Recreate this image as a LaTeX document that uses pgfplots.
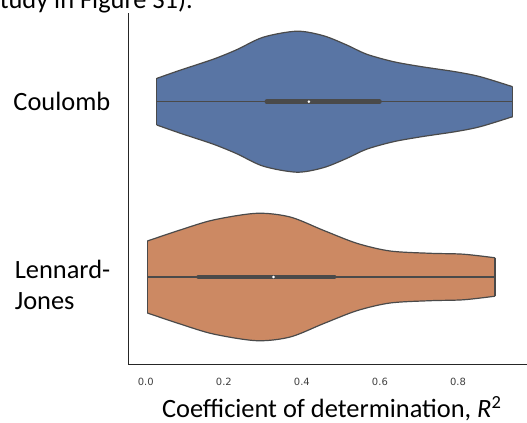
\documentclass[border=0pt]{standalone}
\usepackage{pgfplots}
\pgfplotsset{compat=1.18}
\usepgfplotslibrary{fillbetween}
\usepackage{fontspec}
\setmainfont{Carlito}
\newfontfamily\tickfont{DejaVu Sans}
\definecolor{vblue}{HTML}{5975A4}
\definecolor{vorange}{HTML}{CC8963}
\definecolor{vline}{HTML}{4A4A4A}
\begin{document}
\begin{tikzpicture}
\begin{axis}[
 set layers,
 scale only axis, width=398.5bp, height=351.5bp,
 xmin=-0.0444, xmax=0.977, ymin=-364.5, ymax=-13,
 axis x line*=bottom, axis y line*=left,
 axis line style={black!85, line width=0.8bp},
 xtick={0,0.2,0.4,0.6,0.8},
 xticklabels={0.0,0.2,0.4,0.6,0.8},
 xticklabel style={font=\tickfont\fontsize{10}{12}\selectfont, text=black!75, inner sep=0pt, anchor=north, yshift=-13bp},
 major tick length=0pt,
 ytick={-101,-285},
 yticklabels={Coulomb, Lennard-\\Jones},
 yticklabel style={font=\fontsize{26.5}{31}\selectfont, align=left, inner sep=0pt, anchor=east, xshift=-18bp},
 xlabel={Coefficient of determination, \textit{R}\textsuperscript{2}},
 xlabel style={font=\fontsize{26.5}{31}\selectfont, at={(axis description cs:0.51,0)}, anchor=base, yshift=-52.8bp},
 clip=false,
]
% Coulomb violin
\addplot[name path=cu, draw=vline, line width=1.2bp, smooth] coordinates {
(0.028,-78.4)(0.088,-70.2)(0.173,-59.2)(0.233,-49.7)(0.301,-37.2)(0.387,-31.2)(0.455,-35.7)(0.515,-45.0)(0.566,-54.2)(0.635,-61.7)(0.707,-66.7)(0.793,-71.7)(0.857,-76.7)(0.940,-86.7)};
\addplot[name path=cl, draw=vline, line width=1.2bp, smooth] coordinates {
(0.028,-125.0)(0.088,-133.2)(0.173,-144.2)(0.233,-153.7)(0.301,-166.2)(0.387,-172.2)(0.455,-167.7)(0.515,-158.4)(0.566,-149.2)(0.635,-141.7)(0.707,-136.7)(0.793,-131.7)(0.857,-126.7)(0.940,-116.7)};
\addplot[fill=vblue, draw=none] fill between[of=cu and cl];
\addplot[vline, line width=1.2bp] coordinates {(0.028,-78.4)(0.028,-125.0)};
\addplot[vline, line width=1.2bp] coordinates {(0.940,-86.7)(0.940,-116.7)};
\addplot[vline, line width=1.2bp] coordinates {(0.028,-101.7)(0.940,-101.7)};
\addplot[vline, line width=4.5bp, line cap=round] coordinates {(0.310,-101.7)(0.599,-101.7)};
\addplot[only marks, mark=*, mark size=1.1bp, white] coordinates {(0.418,-101.7)};
% Lennard-Jones violin
\addplot[name path=lu, draw=vline, line width=1.2bp, smooth] coordinates {
(0.004,-241.0)(0.088,-230.0)(0.173,-220.0)(0.284,-213.3)(0.370,-217.0)(0.455,-230.3)(0.541,-243.3)(0.626,-251.0)(0.729,-253.3)(0.814,-254.2)(0.895,-257.8)};
\addplot[name path=ll, draw=vline, line width=1.2bp, smooth] coordinates {
(0.004,-313.0)(0.088,-324.0)(0.173,-334.0)(0.284,-340.7)(0.370,-337.0)(0.455,-323.7)(0.541,-310.7)(0.626,-303.0)(0.729,-300.7)(0.814,-299.8)(0.895,-296.2)};
\addplot[fill=vorange, draw=none] fill between[of=lu and ll];
\addplot[vline, line width=1.2bp] coordinates {(0.004,-241.0)(0.004,-313.0)};
\addplot[vline, line width=1.2bp] coordinates {(0.895,-257.8)(0.895,-296.2)};
\addplot[vline, line width=1.2bp] coordinates {(0.004,-277)(0.895,-277)};
\addplot[vline, line width=4.5bp, line cap=round] coordinates {(0.135,-277)(0.483,-277)};
\addplot[only marks, mark=*, mark size=1.1bp, white] coordinates {(0.327,-277)};
\end{axis}
\node[anchor=base east, font=\fontsize{26.5}{31}\selectfont, inner sep=0pt] at (64.5bp,356bp) {study in Figure S1).};
\pgfresetboundingbox
\path[use as bounding box] (-128.5bp,-58.5bp) rectangle (398.5bp,364.5bp);
\end{tikzpicture}
\end{document}
